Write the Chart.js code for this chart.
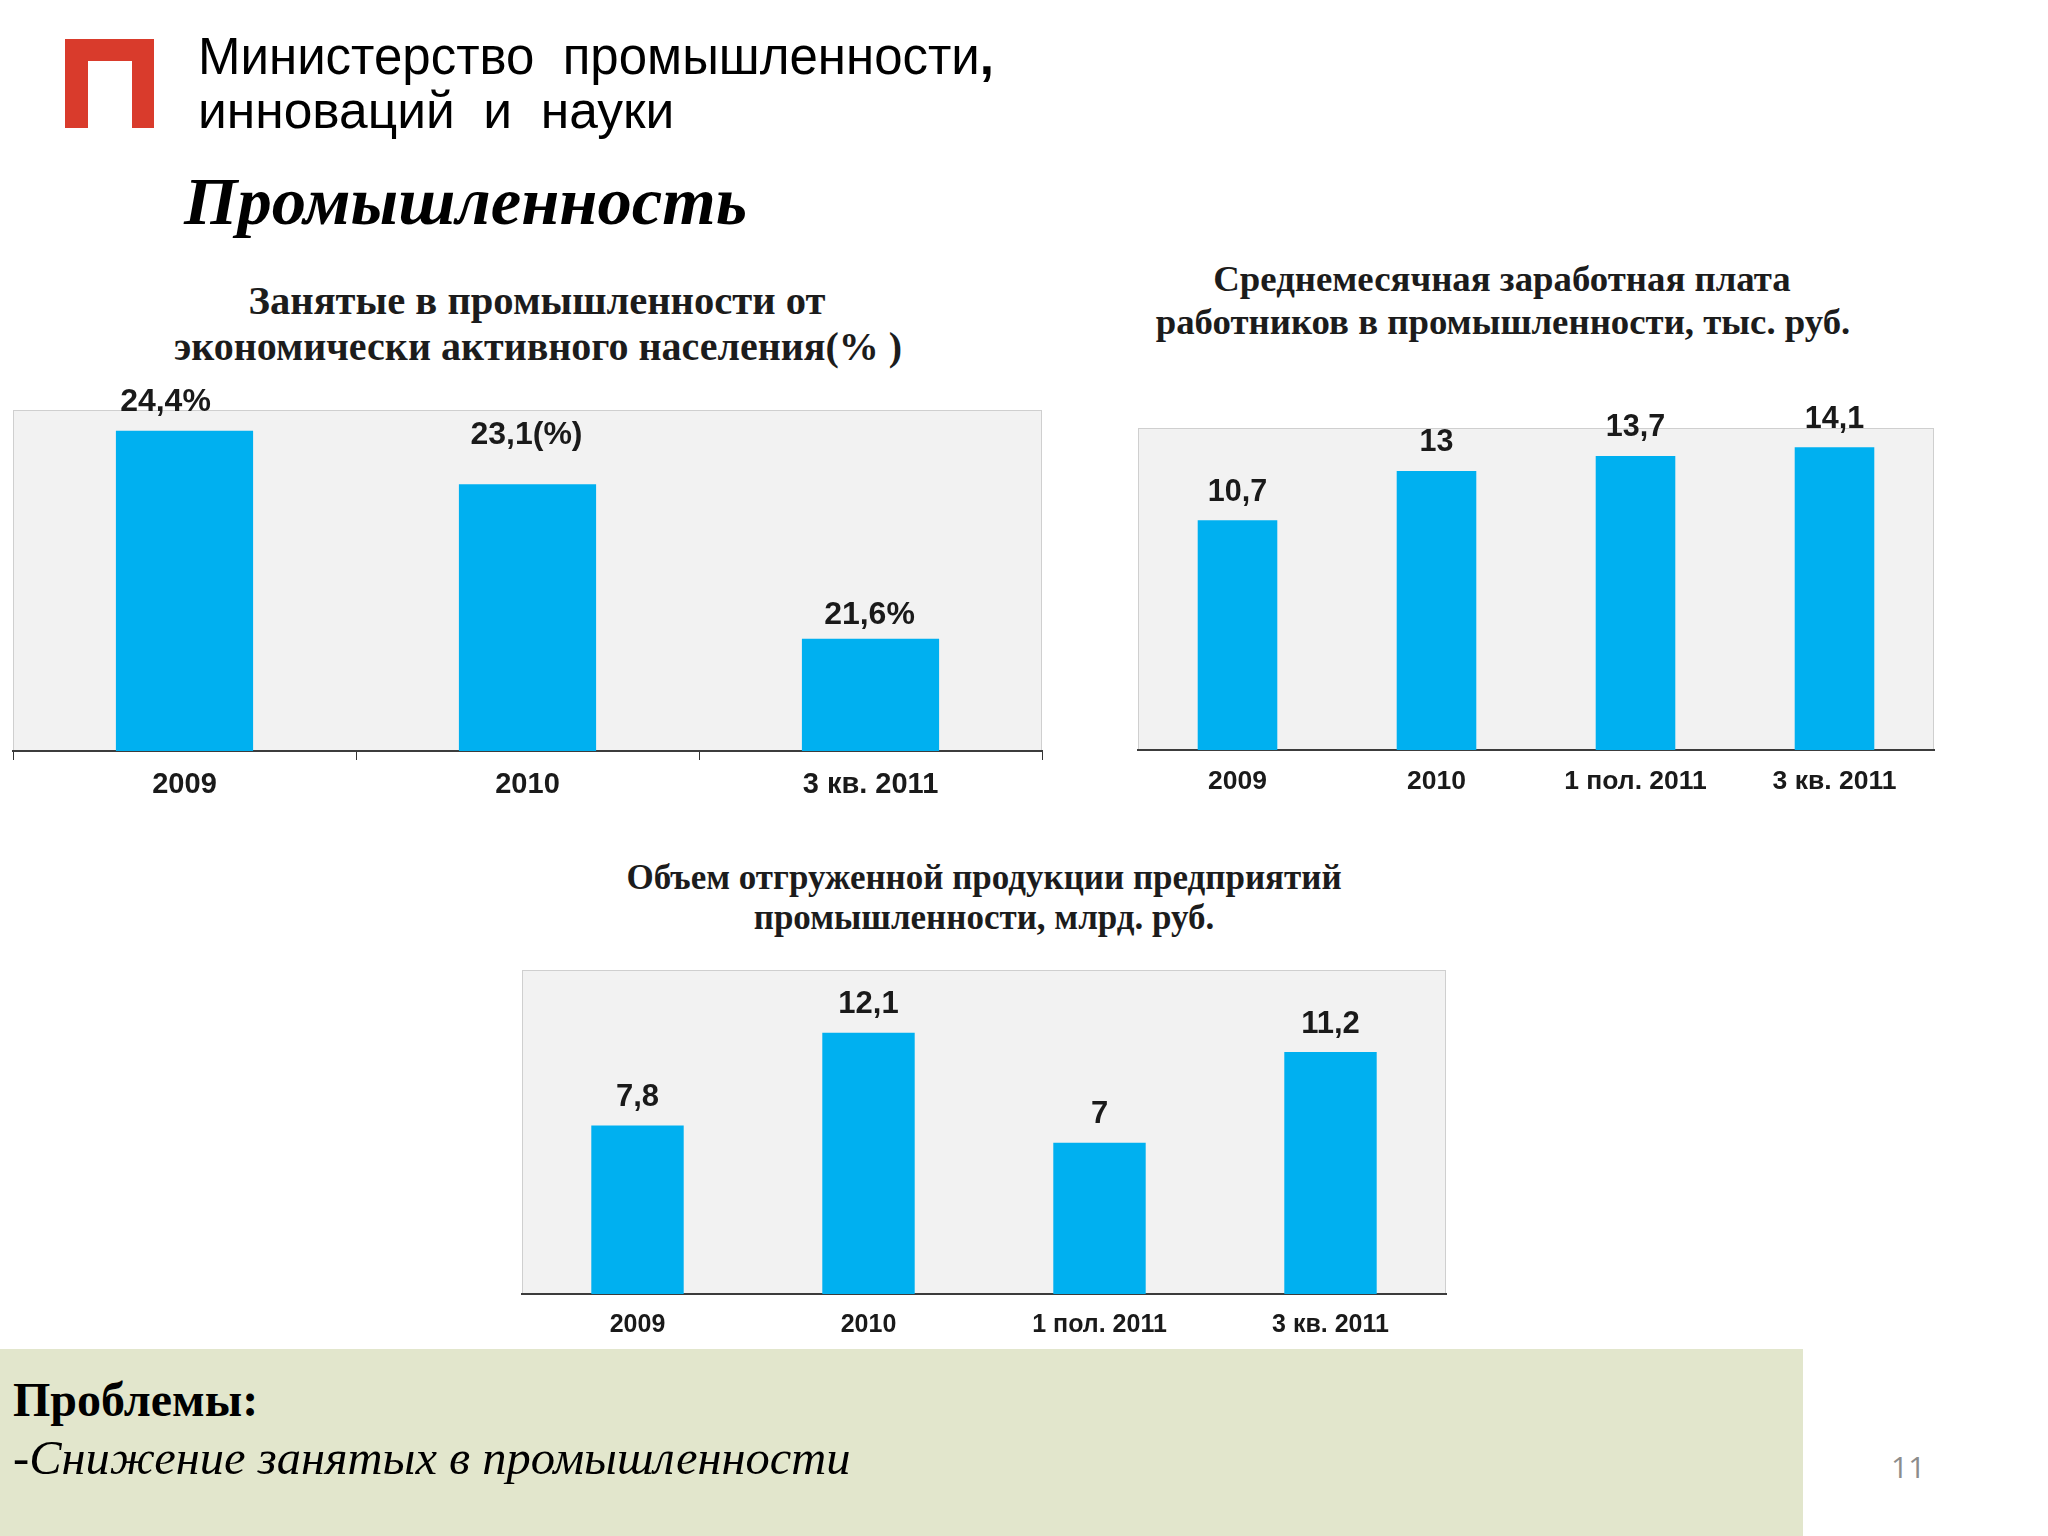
<!DOCTYPE html>
<html lang="ru"><head><meta charset="utf-8">
<script src="https://cdn.jsdelivr.net/npm/chart.js@4"></script>
<style>
html,body{margin:0;padding:0;background:#fff;width:2048px;height:1536px;overflow:hidden}
#page{position:relative;width:2048px;height:1536px}
canvas{position:absolute}
.t{position:absolute;white-space:pre;line-height:1;color:#000;transform:translateY(-50%)}
.c{transform:translate(-50%,-50%)}
.sans{font-family:"Liberation Sans",sans-serif}
.serif{font-family:"Liberation Serif",serif}
.ct{font-family:"Liberation Serif",serif;font-weight:bold;color:#1c1c1c}
#logo{position:absolute;left:65px;top:39px;width:89px;height:89px;background:#d93b2c}
#logo i{position:absolute;left:23px;top:22px;width:44px;height:67px;background:#fff}
#band{position:absolute;left:0;top:1349px;width:1803px;height:187px;background:#e2e6cc}
</style></head><body><div id="page">
<div id="logo"><i></i></div>
<div class="t sans" style="left:198px;top:56px;font-size:51px">Министерство  промышленности<b>,</b></div>
<div class="t sans" style="left:198px;top:111px;font-size:51.5px">инноваций  и  науки</div>
<div class="t serif" style="left:184px;top:201px;font-size:68.7px;font-weight:bold;font-style:italic">Промышленность</div>
<div class="t c ct" style="left:537px;top:301px;font-size:40.6px">Занятые в промышленности от</div>
<div class="t c ct" style="left:538px;top:347px;font-size:40px">экономически активного населения(% )</div>
<div class="t c ct" style="left:1502px;top:279px;font-size:36.8px">Среднемесячная заработная плата</div>
<div class="t c ct" style="left:1503px;top:322px;font-size:36.8px">работников в промышленности, тыс. руб.</div>
<div class="t c ct" style="left:984px;top:877px;font-size:35px">Объем отгруженной продукции предприятий</div>
<div class="t c ct" style="left:984px;top:917px;font-size:35px">промышленности, млрд. руб.</div>
<div id="band"></div>
<div class="t serif" style="left:13px;top:1400px;font-size:48px;font-weight:bold">Проблемы:</div>
<div class="t serif" style="left:13px;top:1458px;font-size:48.5px;font-style:italic">-Снижение занятых в промышленности</div>
<div class="t" style="left:1891px;top:1467px;font-family:'Open Sans',sans-serif;font-size:30px;color:#8c8c8c">11</div>
<canvas id="c1" width="1056" height="450" style="left:0;top:370px"></canvas>
<canvas id="c2" width="820" height="430" style="left:1120px;top:390px"></canvas>
<canvas id="c3" width="950" height="410" style="left:510px;top:930px"></canvas>
</div>
<script>
// Chart 1: the source's bars are not proportional to their labels, so the drawn heights
// read from the picture are kept apart from the printed labels.
const employCategories = ["2009", "2010", "3 кв. 2011"];
const employBarHeights = [24.4, 23.68, 21.6];
const employLabels = ["24,4%", "23,1(%)", "21,6%"];

const wageCategories = ["2009", "2010", "1 пол. 2011", "3 кв. 2011"];
const wageValues = [10.7, 13, 13.7, 14.1];
const wageLabels = ["10,7", "13", "13,7", "14,1"];

const shippedCategories = ["2009", "2010", "1 пол. 2011", "3 кв. 2011"];
const shippedValues = [7.8, 12.1, 7, 11.2];
const shippedLabels = ["7,8", "12,1", "7", "11,2"];

const sans = "Liberation Sans";
const decor = {
  id: "decor",
  beforeDraw(ch) {
    const a = ch.chartArea, g = ch.ctx;
    g.save();
    g.fillStyle = "#f2f2f2";
    g.fillRect(a.left, a.top, a.width, a.height);
    g.strokeStyle = "#cfcfcf"; g.lineWidth = 1;
    g.strokeRect(a.left + .5, a.top + .5, a.width - 1, a.height);
    g.restore();
  },
  afterDatasetsDraw(ch, args, o) {
    const g = ch.ctx, bars = ch.getDatasetMeta(0).data;
    g.save();
    g.font = "bold " + o.size + "px '" + sans + "'";
    g.fillStyle = "#1a1a1a";
    g.textAlign = "center"; g.textBaseline = "middle";
    bars.forEach((b, i) => {
      g.fillText(o.labels[i], b.x + (o.dx ? o.dx[i] : 0), b.y - (o.dy[i]));
    });
    g.restore();
  }
};
function make(id, cats, vals, labels, cfg) {
  new Chart(document.getElementById(id), {
    type: "bar",
    data: { labels: cats, datasets: [{ data: vals, backgroundColor: "#00b0f0",
      barPercentage: 0.4, categoryPercentage: 1, borderWidth: 0 }] },
    plugins: [decor],
    options: {
      responsive: false, animation: false,
      layout: { padding: cfg.pad },
      plugins: { legend: { display: false }, tooltip: { enabled: false },
        decor: { labels, size: cfg.lab, dy: cfg.dy, dx: cfg.dx } },
      scales: {
        y: { display: false, min: cfg.min, max: cfg.max },
        x: {
          afterFit(s) { s.height = cfg.axis; },
          grid: { display: true, offset: true, drawOnChartArea: false, drawTicks: cfg.ticks,
                  tickLength: cfg.ticks ? 9 : 0, color: "#333" },
          border: { display: true, color: "#3c3c3c", width: 2 },
          ticks: { color: "#1a1a1a", padding: cfg.tp, maxRotation: 0, autoSkip: false,
                   font: { family: sans, weight: "bold", size: cfg.tick } }
        }
      }
    }
  });
}
make("c1", employCategories, employBarHeights, employLabels, {
  pad: { left: 13, right: 14, top: 40, bottom: 0 }, axis: 69, min: 20.09, max: 24.68,
  lab: 32, tick: 29, tp: 8, ticks: true, dy: [29, 49, 24], dx: [-19, -1, -1] });
make("c2", wageCategories, wageValues, wageLabels, {
  pad: { left: 18, right: 6, top: 38, bottom: 0 }, axis: 70, min: 0, max: 15,
  lab: 30.5, tick: 26.5, tp: 16, ticks: false, dy: [28, 28, 28, 28] });
make("c3", shippedCategories, shippedValues, shippedLabels, {
  pad: { left: 12, right: 14, top: 40, bottom: 0 }, axis: 46, min: 0, max: 15,
  lab: 31, tick: 25, tp: 16, ticks: false, dy: [28, 28, 28, 28] });
</script></body></html>
